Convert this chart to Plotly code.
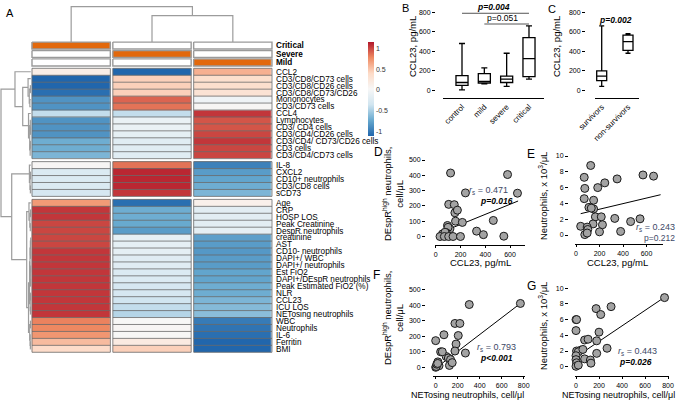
import numpy as np
import plotly.graph_objects as go

W, H = 678, 403
FONT = "Liberation Sans, Arial, sans-serif"
NARROW = "Liberation Sans Narrow, Arial Narrow, Liberation Sans, Arial, sans-serif"

# ---------------- Panel A data ----------------
row_labels = [
    "CCL2", "CD3/CD8/CD73 cells", "CD3/CD8/CD26 cells", "CD3/CD8/CD73/CD26", "Mononocytes", "CD3/CD73 cells",
    "CCL4", "Lymphocytes", "CD3/ CD4 cells", "CD3/CD4/CD26 cells", "CD3/CD4/ CD73/CD26 cells", "CD3 cells",
    "CD3/CD4/CD73 cells",
    "IL-8", "CXCL2", "CD10+ neutrophils", "CD3/CD8 cells", "sCD73",
    "Age", "CRP", "HOSP LOS", "Peak Creatinine", "DespR neutrophils", "creatinine", "AST", "CD10- neutrophils",
    "DAPI+/ WBC", "DAPI+/ neutrophils", "Est FiO2", "DAPI+/DEspR neutrophils", "Peak Estimated FiO2 (%)", "NLR",
    "CCL23", "ICU LOS", "NETosing neutrophils", "WBC", "Neutrophils", "IL-6", "Ferritin", "BMI"]
col_groups = ["Critical", "Severe", "Mild"]
block_sizes = [13, 5, 22]

z_critical = [0.15, -1.1, -1.1, -1.05, -0.85, -0.85, -0.4, -0.85, -0.85, -0.85, -0.7, -0.7, -0.65,
              0.05, -0.25, -0.25, -0.25, -0.3,
              0.7, 1.05, 1.05, 1.0, 1.0, 1.0, 1.0, 1.05, 1.05, 1.05, 1.05, 1.05, 1.05, 1.05, 1.05, 1.05, 1.05,
              0.8, 0.78, 0.72, 0.55, 0.38]
z_severe = [-1.1, 0.45, 0.45, 0.45, 0.9, 0.85, -0.4, -0.1, -0.1, -0.15, -0.2, -0.2, -0.2,
            0.85, 1.1, 1.1, 1.1, 1.05,
            -1.05, -0.7, -0.7, -0.72, -0.8, -0.15, -0.15, -0.15, -0.2, -0.2, -0.25, -0.25, -0.3, -0.3, -0.35,
            -0.4, -0.45, 0.03, 0.05, 0.03, 0.2, 0.45]
z_mild = [0.6, 0.35, 0.35, 0.3, -0.05, 0.05, 1.05, 0.95, 0.95, 1.0, 1.05, 1.0, 1.0,
          -0.95, -0.8, -0.75, -0.7, -0.65,
          0.12, -0.18, -0.18, -0.18, -0.15, -0.78, -0.8, -0.82, -0.8, -0.8, -0.75, -0.75, -0.7, -0.7, -0.65,
          -0.62, -0.6, -0.98, -1.02, -1.05, -1.1, -1.1]
group_membership = [[1, 0, 0], [0, 1, 0], [0, 0, 1]]   # Critical, Severe, Mild rows of annotation bar

# dendrograms: (left, right, merge height)
B1a = (1, ((2, 3, 0.12), (4, 5, 0.3), 0.5), 0.9)
B1b = (6, ((7, (8, 9, 0.08), 0.15), ((10, 11, 0.1), 12, 0.2), 0.35), 0.75)
B1 = (0, (B1a, B1b, 2.7), 5.3)
B2 = (13, ((14, 15, 0.1), (16, 17, 0.12), 0.25), 0.45)
B3a = (18, ((19, 20, 0.08), (21, 22, 0.15), 0.3), 0.6)
B3b = ((((23, 24, 0.05), (25, 26, 0.06), 0.12), ((27, 28, 0.05), (29, 30, 0.07), 0.14), 0.25),
       ((31, 32, 0.08), (33, 34, 0.1), 0.18), 0.4)
B3c = ((35, 36, 0.1), (37, (38, 39, 0.12), 0.2), 0.35)
B3 = (B3a, (B3b, B3c, 0.75), 1.36)
row_tree = (B1, (B2, B3, 6.4), 10.0)
col_tree = (0, (1, 2, 7.5), 10.0)

# ---------------- Panel B / C data ----------------
b_cats = ["control", "mild", "severe", "critical"]
b_min = [5, 65, 40, 115]
b_q1 = [50, 75, 80, 140]
b_med = [80, 92, 115, 325]
b_q3 = [150, 170, 145, 540]
b_max = [480, 230, 380, 660]

c_cats = ["survivors", "non-survivors"]
c_min = [40, 380]
c_q1 = [100, 410]
c_med = [145, 500]
c_q3 = [200, 565]
c_max = [660, 580]

# ---------------- Panel D-G data ----------------
d_x = [120, 105, 150, 155, 175, 160, 215, 240, 95, 115, 100, 85, 70, 55, 75, 35, 70, 105, 140, 200, 330, 385,
       465, 550, 580, 660]
d_y = [415, 210, 208, 155, 172, 100, 92, 285, 72, 50, 60, 25, 12, 17, 28, 0, 0, 0, 0, 0, 35, 12, 105, 2, 405, 283]
d_fit_x = [110, 665]
d_fit_y = [49, 232]

e_x = [125, 70, 75, 185, 245, 350, 570, 660, 70, 110, 150, 150, 165, 215, 225, 145, 330, 380, 465, 545, 40, 95,
       100, 75, 95, 200, 130]
e_y = [8.8, 7.3, 5.9, 6.0, 6.6, 7.1, 7.6, 7.45, 4.6, 3.5, 4.4, 3.3, 2.3, 2.3, 1.3, 1.4, 2.1, 0.45, 1.7, 2.05, 1.1,
       1.0, 0.7, 0.05, 0.25, 0.4, 3.4]
e_fit_x = [40, 720]
e_fit_y = [2.7, 5.1]

f_x = [770, 305, 175, 220, 75, 205, 0, 185, 175, 270, 45, 95, 115, 135, 125, 20, 30, 0, 5, 10, 18, 60, 150]
f_y = [412, 405, 283, 283, 210, 205, 172, 150, 105, 92, 100, 70, 60, 50, 12, 35, 10, 0, 5, 20, 25, 100, 30]
f_fit_x = [5, 770]
f_fit_y = [-3, 412]

g_x = [770, 175, 305, 215, 0, 5, 0, 200, 75, 105, 180, 270, 180, 5, 40, 20, 75, 125, 130, 0, 0, 5, 0, 20, 60]
g_y = [8.8, 7.4, 7.65, 6.65, 6.0, 6.0, 4.6, 4.4, 3.4, 3.5, 3.3, 2.35, 1.7, 2.0, 2.1, 1.9, 1.0, 0.85, 0.45, 1.4,
       0.9, 0.5, 0.05, 0.2, 2.2]
g_fit_x = [0, 760]
g_fit_y = [1.25, 8.75]

# ---------------- helpers ----------------
def px(x):
    return x / W


def py(y):
    return 1 - y / H


fig = go.Figure()

# ---------------- Panel A geometry ----------------
A_LEFT_PX, PITCH_X, A_RIGHT_PX = 30.75, 80.83, 274
A_TOP_PX, ROW_PX = 68.3, 6.95
GAP = 0.43
XGAP_PX = 2.5
dx = (XGAP_PX / 2) / PITCH_X

zmat = np.array([z_critical, z_severe, z_mild]).T
edges = [0.0]
zrows = []
centers = []
spans = []
y = 0.0
r = 0
for bi, n in enumerate(block_sizes):
    if bi > 0:
        zrows.append([None] * 3)
        y += GAP
        edges.append(y)
    top = y
    for i in range(n):
        zrows.append([float(v) for v in zmat[r]])
        centers.append(y + 0.5)
        y += 1
        edges.append(y)
        r += 1
    spans.append((top, y))

RdBu7 = ['#2166ac', '#67a9cf', '#d1e5f0', '#f7f7f7', '#fddbc7', '#ef8a62', '#b2182b']
cs = [[i / 6, c] for i, c in enumerate(RdBu7)]
ZMIN, ZMAX = -1.1, 1.15
cb_top, cb_bot = 42, 136
fig.add_trace(go.Heatmap(
    z=zrows, x=[0.5, 1.5, 2.5], y=edges, colorscale=cs, zmin=ZMIN, zmax=ZMAX, xgap=XGAP_PX,
    hoverinfo="skip", xaxis="x", yaxis="y",
    colorbar=dict(x=px(368), xanchor="left", y=py((cb_top + cb_bot) / 2), yanchor="middle",
                  len=(cb_bot - cb_top) / H, lenmode="fraction", thickness=6, thicknessmode="pixels",
                  xpad=0, ypad=0, outlinewidth=0, ticks="", tickvals=[-1, -0.5, 0, 0.5, 1],
                  ticktext=["-1", "-0.5", "0", "0.5", "1"], tickfont=dict(size=7, family=FONT, color="#333"))))

# annotation bar
ann_edges = [-3.77, -2.77, -2.55, -1.57, -1.35, -0.33]
ann_z = [group_membership[0], [None] * 3, group_membership[1], [None] * 3, group_membership[2]]
fig.add_trace(go.Heatmap(z=ann_z, x=[0.5, 1.5, 2.5], y=ann_edges, colorscale=[[0, "#ffffff"], [1, "#e2680c"]],
                         zmin=0, zmax=1, showscale=False, xgap=XGAP_PX, hoverinfo="skip",
                         xaxis="x", yaxis="y"))
ann_centers = [(ann_edges[0] + ann_edges[1]) / 2, (ann_edges[2] + ann_edges[3]) / 2,
               (ann_edges[4] + ann_edges[5]) / 2]

# borders
bx, by = [], []
for c in range(3):
    xl, xr = c + dx, c + 1 - dx
    for (t, b) in spans:
        n = int(round(b - t))
        for i in range(n + 1):
            bx += [xl, xr, None]
            by += [t + i, t + i, None]
        bx += [xl, xl, None, xr, xr, None]
        by += [t, b, None, t, b, None]
fig.add_trace(go.Scatter(x=bx, y=by, mode="lines", line=dict(color="#6a6a6a", width=0.8),
                         hoverinfo="skip", showlegend=False, xaxis="x", yaxis="y"))
ax_, ay_ = [], []
for c in range(3):
    xl, xr = c + dx, c + 1 - dx
    for k in range(3):
        t, b = ann_edges[2 * k], ann_edges[2 * k + 1]
        ax_ += [xl, xr, xr, xl, xl, None]
        ay_ += [t, t, b, b, t, None]
fig.add_trace(go.Scatter(x=ax_, y=ay_, mode="lines", line=dict(color="#9a9a9a", width=1.4),
                         hoverinfo="skip", showlegend=False, xaxis="x", yaxis="y"))


def dendro(tree, leafpos):
    segs = []

    def rec(node):
        if isinstance(node, int):
            return leafpos[node], 0.0
        a, b, h = node
        pa, ha = rec(a)
        pb, hb = rec(b)
        segs.append([(pa, ha), (pa, h), (pb, h), (pb, hb)])
        return (pa + pb) / 2, h

    rec(tree)
    return segs


# row dendrogram (left)
k_row = (A_LEFT_PX - 1) / PITCH_X / 10.0
dxs, dys = [], []
for seg in dendro(row_tree, centers):
    for (p, h) in seg:
        dxs.append(-h * k_row)
        dys.append(p)
    dxs.append(None)
    dys.append(None)
# column dendrogram (top)
top_dend_px = 6.7
k_col = ((A_TOP_PX - top_dend_px) / ROW_PX + ann_edges[0]) / 10.0
for seg in dendro(col_tree, [0.5, 1.5, 2.5]):
    for (p, h) in seg:
        dxs.append(p)
        dys.append(ann_edges[0] - h * k_col)
    dxs.append(None)
    dys.append(None)
fig.add_trace(go.Scatter(x=dxs, y=dys, mode="lines", line=dict(color="#9c9c9c", width=1.2),
                         hoverinfo="skip", showlegend=False, xaxis="x", yaxis="y"))

tickvals = ann_centers + centers
ticktext = ["<b>%s</b>" % g for g in col_groups] + row_labels

# ---------------- Panels B, C ----------------
box_line = dict(color="black", width=1.3)
fig.add_trace(go.Box(x=b_cats, q1=b_q1, median=b_med, q3=b_q3, lowerfence=b_min, upperfence=b_max,
                     fillcolor="white", line=box_line, width=0.54, whiskerwidth=0.5, boxpoints=False,
                     hoverinfo="skip", showlegend=False, xaxis="x2", yaxis="y2"))
fig.add_trace(go.Box(x=c_cats, q1=c_q1, median=c_med, q3=c_q3, lowerfence=c_min, upperfence=c_max,
                     fillcolor="white", line=box_line, width=0.38, whiskerwidth=0.5, boxpoints=False,
                     hoverinfo="skip", showlegend=False, xaxis="x3", yaxis="y3"))
# significance bars
sig_pairs = [("control", "critical", 790), ("mild", "critical", 680)]
for a, b, lvl in sig_pairs:
    fig.add_trace(go.Scatter(x=[a, b], y=[lvl, lvl], mode="lines", line=dict(color="#555", width=1),
                             hoverinfo="skip", showlegend=False, xaxis="x2", yaxis="y2"))

# ---------------- Panels D-G ----------------
mk = dict(size=8, color="#a3a3a3", line=dict(color="#1a1a1a", width=1))
for (xs, ys, fx, fy, ax) in [(d_x, d_y, d_fit_x, d_fit_y, "4"), (e_x, e_y, e_fit_x, e_fit_y, "5"),
                             (f_x, f_y, f_fit_x, f_fit_y, "6"), (g_x, g_y, g_fit_x, g_fit_y, "7")]:
    fig.add_trace(go.Scatter(x=fx, y=fy, mode="lines", line=dict(color="black", width=1),
                             hoverinfo="skip", showlegend=False, xaxis="x" + ax, yaxis="y" + ax))
    fig.add_trace(go.Scatter(x=xs, y=ys, mode="markers", marker=mk, cliponaxis=False,
                             hoverinfo="skip", showlegend=False, xaxis="x" + ax, yaxis="y" + ax))

# ---------------- layout ----------------
tickfont = dict(size=7, family=FONT, color="black")


def xax(dom_px, rng, anchor, tickvals=None, cat=None, angle=0, ticks="outside"):
    d = dict(domain=[px(dom_px[0]), px(dom_px[1])], range=rng, anchor=anchor, showline=True,
             linecolor="black", linewidth=1.3, showgrid=False, zeroline=False, ticks=ticks, ticklen=2,
             tickwidth=1, tickcolor="black", tickfont=tickfont)
    if cat is not None:
        d.update(type="category", categoryorder="array", categoryarray=cat, tickangle=angle,
                 tickfont=dict(size=8, family=FONT, color="black"), ticks="")
    else:
        d.update(tickvals=tickvals, tickmode="array")
    return d


def yax(dom_px, rng, pos_px, tickvals):
    return dict(domain=[py(dom_px[1]), py(dom_px[0])], range=rng, anchor="free", position=px(pos_px),
                showline=False, showgrid=False, zeroline=False, ticks="outside", ticklen=3, tickwidth=1,
                tickcolor="black", tickfont=tickfont, tickvals=tickvals, tickmode="array")


def yrange(dom_px, zero_px, px_per_unit):
    return [-(dom_px[1] - zero_px) / px_per_unit, (zero_px - dom_px[0]) / px_per_unit]


def xrange_(dom_px, zero_px, px_per_unit):
    return [(dom_px[0] - zero_px) / px_per_unit, (dom_px[1] - zero_px) / px_per_unit]


BC_Y = (5, 98)
B_X = (443, 544)
C_X = (595, 639)
D_X, D_Y = (435, 525), (150, 245)
E_X, E_Y = (575, 663), (150, 244)
F_X, F_Y = (433, 525), (280, 376)
G_X, G_Y = (575, 669), (283, 376)

layout = dict(
    width=W, height=H, margin=dict(l=0, r=0, t=0, b=0), template="none",
    paper_bgcolor="white", plot_bgcolor="rgba(0,0,0,0)", showlegend=False,
    font=dict(family=FONT, color="black"),
    xaxis=dict(domain=[0, px(A_RIGHT_PX)], range=[-A_LEFT_PX / PITCH_X, (A_RIGHT_PX - A_LEFT_PX) / PITCH_X],
               visible=False, anchor="y"),
    yaxis=dict(domain=[0, 1], range=[(H - A_TOP_PX) / ROW_PX, -A_TOP_PX / ROW_PX], anchor="x", side="right",
               tickvals=tickvals, ticktext=ticktext, tickmode="array", ticks="", showgrid=False,
               zeroline=False, showline=False, ticklabelstandoff=1,
               tickfont=dict(size=8.2, family=NARROW, color="black")),
    xaxis2=xax(B_X, [(B_X[0] - 462) / 22.33, (B_X[1] - 462) / 22.33], "y2", cat=b_cats, angle=-45),
    yaxis2=yax(BC_Y, yrange(BC_Y, 90.3, 0.0975), 435, [0, 200, 400, 600, 800]),
    xaxis3=xax(C_X, [(C_X[0] - 601.7) / 26.3, (C_X[1] - 601.7) / 26.3], "y3", cat=c_cats, angle=-45),
    yaxis3=yax(BC_Y, yrange(BC_Y, 90.3, 0.0975), 585, [0, 200, 400, 600, 800]),
    xaxis4=xax(D_X, xrange_(D_X, 435.7, 0.1239), "y4", tickvals=[0, 200, 400, 600]),
    yaxis4=yax(D_Y, yrange(D_Y, 236.5, 0.153), 425, [0, 100, 200, 300, 400, 500]),
    xaxis5=xax(E_X, xrange_(E_X, 576, 0.1175), "y5", tickvals=[0, 200, 400, 600]),
    yaxis5=yax(E_Y, yrange(E_Y, 235, 7.9), 568, [0, 2, 4, 6, 8, 10]),
    xaxis6=xax(F_X, xrange_(F_X, 435.7, 0.11), "y6", tickvals=[0, 200, 400, 600, 800]),
    yaxis6=yax(F_Y, yrange(F_Y, 367.3, 0.155), 425, [0, 100, 200, 300, 400, 500]),
    xaxis7=xax(G_X, xrange_(G_X, 576, 0.115), "y7", tickvals=[0, 200, 400, 600, 800]),
    yaxis7=yax(G_Y, yrange(G_Y, 366.7, 7.85), 568, [0, 2, 4, 6, 8, 10]),
)
fig.update_layout(**layout)

anns = []


def txt(text, x, y, size=9.5, angle=0, xanchor="center", color="black", yanchor="middle"):
    anns.append(dict(text=text, x=px(x), y=py(y), xref="paper", yref="paper", showarrow=False,
                     xanchor=xanchor, yanchor=yanchor, textangle=angle,
                     font=dict(size=size, family=FONT, color=color)))


# panel letters
for L, x, y, s in [("A", 10, 13, 11), ("B", 405, 8, 11), ("C", 552, 9, 11), ("D", 378, 152, 12),
                   ("E", 531, 154, 12), ("F", 376, 275, 12), ("G", 531, 286, 12)]:
    txt(L, x, y, size=s)

# axis titles
txt("CCL23, pg/mL", 413, 47, size=9.5, angle=-90)
txt("CCL23, pg/mL", 557, 47, size=9.5, angle=-90)
txt("DEspR<sup>high</sup> neutrophils,<br>cell/μL", 393, 194, size=9.5, angle=-90)
txt("DEspR<sup>high</sup> neutrophils,<br>cell/μL", 393, 318, size=9.5, angle=-90)
txt("Neutrophils, x 10<sup>3</sup>/μL", 543, 196, size=9.5, angle=-90)
txt("Neutrophils, x 10<sup>3</sup>/μL", 543, 326, size=9.5, angle=-90)
txt("CCL23, pg/mL", 480, 262, size=9.5)
txt("CCL23, pg/mL", 617, 262, size=9.5)
txt("NETosing neutrophils, cell/μl", 467, 395, size=9)
txt("NETosing neutrophils, cell/μl", 618, 395, size=9)

# stats
SL = "#3d4866"
txt("<b><i>p=0.004</i></b>", 493, 7, size=8.5)
txt("p=0.051", 502, 18, size=8.5)
txt("<b><i>p=0.002</i></b>", 615, 20, size=8.5)
txt("<i>r</i><sub>s</sub> = 0.471", 467, 190, size=9, xanchor="left", color=SL)
txt("<b><i>p=0.016</i></b>", 478, 201, size=8.5, xanchor="left")
txt("<i>r</i><sub>s</sub> = 0.243", 677, 227, size=9, xanchor="right", color=SL)
txt("p=0.212", 677, 238, size=8.5, xanchor="right", color=SL)
txt("<i>r</i><sub>s</sub> = 0.793", 475, 347, size=9, xanchor="left", color=SL)
txt("<b><i>p&lt;0.001</i></b>", 478, 358, size=8.5, xanchor="left")
txt("<i>r</i><sub>s</sub> = 0.443", 616, 351, size=9, xanchor="left", color=SL)
txt("<b><i>p=0.026</i></b>", 617, 362, size=8.5, xanchor="left")

fig.update_layout(annotations=anns)
fig.write_html("out.html", config={"displayModeBar": False},
               post_script="document.body.style.margin='0';document.body.style.overflow='hidden';")
